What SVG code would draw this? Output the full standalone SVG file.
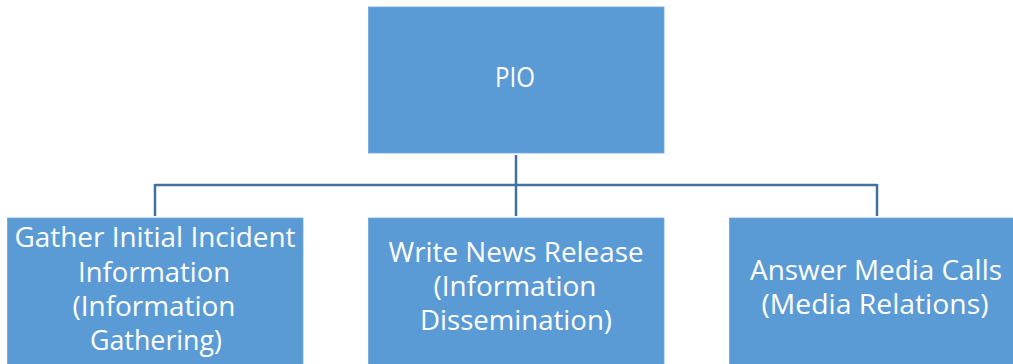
<svg xmlns="http://www.w3.org/2000/svg" width="1013" height="364" viewBox="0 0 1013 364">
<style>
.box{fill:#5B9BD5;stroke:#6FA7DA;stroke-width:0.8}
.t{font-family:"Open Sans","Liberation Sans",sans-serif;font-size:27px;fill:#FFFFFF;text-anchor:middle}
.c{fill:none;stroke:#41719C;stroke-width:2.5}
</style>
<rect x="0" y="0" width="1013" height="364" fill="#FFFFFF"/>
<g id="connectors">
<path class="c" d="M516 155V185M155 185H877M155 184V216M516 184V216M877 184V216"/>
</g>
<g id="pio">
<rect class="box" x="368.5" y="7" width="295.5" height="146"/>
<text class="t" x="515" y="87" textLength="40" lengthAdjust="spacingAndGlyphs">PIO</text>
</g>
<g id="gather">
<rect class="box" x="7.5" y="218" width="295.5" height="150"/>
<text class="t" x="155" y="247" textLength="281" lengthAdjust="spacingAndGlyphs">Gather Initial Incident</text>
<text class="t" x="154" y="281.5" textLength="152" lengthAdjust="spacingAndGlyphs">Information</text>
<text class="t" x="154" y="316" textLength="163" lengthAdjust="spacingAndGlyphs">(Information</text>
<text class="t" x="156" y="350" textLength="132" lengthAdjust="spacingAndGlyphs">Gathering)</text>
</g>
<g id="write">
<rect class="box" x="368.5" y="218" width="295.5" height="150"/>
<text class="t" x="516" y="262" textLength="255" lengthAdjust="spacingAndGlyphs">Write News Release</text>
<text class="t" x="515" y="296" textLength="163" lengthAdjust="spacingAndGlyphs">(Information</text>
<text class="t" x="516" y="330" textLength="192" lengthAdjust="spacingAndGlyphs">Dissemination)</text>
</g>
<g id="answer">
<rect class="box" x="729.5" y="218" width="295.5" height="150"/>
<text class="t" x="876" y="280" textLength="252" lengthAdjust="spacingAndGlyphs">Answer Media Calls</text>
<text class="t" x="875" y="314" textLength="227" lengthAdjust="spacingAndGlyphs">(Media Relations)</text>
</g>
</svg>
